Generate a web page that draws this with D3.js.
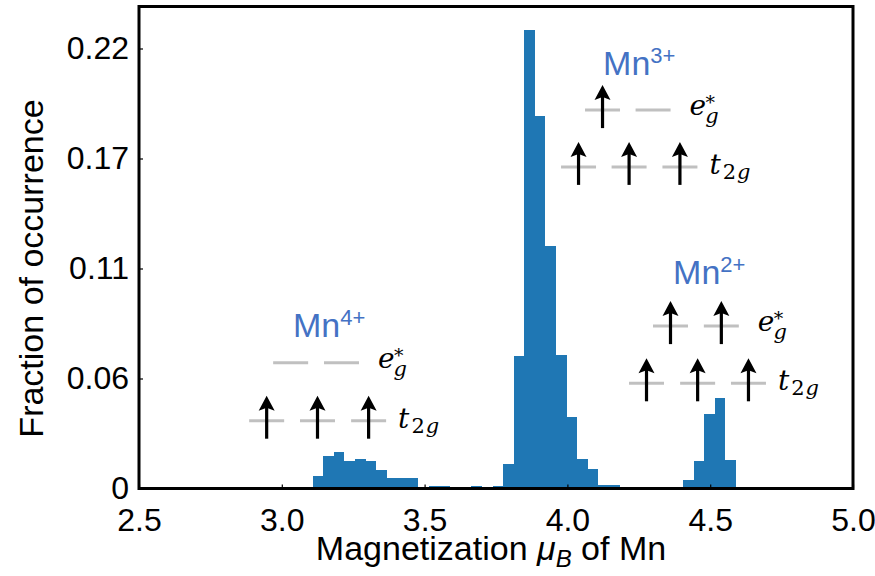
<!DOCTYPE html>
<html>
<head>
<meta charset="utf-8">
<script src="https://cdn.jsdelivr.net/npm/d3@7/dist/d3.min.js"></script>
<style>
  html, body { margin: 0; padding: 0; background: #fff; }
  svg { display: block; }
</style>
</head>
<body>
<svg id="chart" width="875" height="576"></svg>
<script>
// Histogram of Mn magnetic moments: 40 equal-width bins
const binStart = 3.108;
const binWidth = 0.03705;
const fractions = [
  0.0062, 0.0162, 0.0184, 0.0139, 0.0147, 0.0137, 0.0094, 0.0052, 0.0052, 0.0052,
  0.0008, 0.0012, 0.0012, 0.0000, 0.0000, 0.0012, 0.0000, 0.0012, 0.0122, 0.0662,
  0.2291, 0.1862, 0.1212, 0.0667, 0.0359, 0.0147, 0.0097, 0.0017, 0.0017, 0.0000,
  0.0000, 0.0000, 0.0008, 0.0000, 0.0000, 0.0042, 0.0137, 0.0372, 0.0452, 0.0142
];

const xTicks = [2.5, 3.0, 3.5, 4.0, 4.5, 5.0];
const xTickLabels = ["2.5", "3.0", "3.5", "4.0", "4.5", "5.0"];
const yTicks = [0, 0.055, 0.11, 0.165, 0.22];
const yTickLabels = ["0", "0.06", "0.11", "0.17", "0.22"];

// Crystal-field level diagrams for each oxidation state (data coordinates)
const ionNames = ["Mn", "Mn", "Mn"];
const ionCharges = ["4+", "3+", "2+"];
const ionLabelX = [3.039, 4.125, 4.370];
const ionLabelY = [0.0757, 0.2066, 0.1022];
const egLevelY = [0.0629, 0.1892, 0.0812];
const t2gLevelY = [0.0339, 0.1608, 0.0526];
const egSlotX = [[3.031, 3.209], [4.123, 4.300], [4.361, 4.539]];
const t2gSlotX = [[2.947, 3.125, 3.304], [4.039, 4.216, 4.394], [4.277, 4.456, 4.634]];
const egSpins = [[0, 0], [1, 0], [1, 1]];
const t2gSpins = [[1, 1, 1], [1, 1, 1], [1, 1, 1]];

const svg = d3.select("#chart");
const W = 875, H = 576;
const margin = { left: 139, right: W - 853, top: 6.5, bottom: H - 488.5 };

const x = d3.scaleLinear().domain([2.5, 5.0]).range([margin.left, W - margin.right]);
const y = d3.scaleLinear().domain([0, 0.241]).range([H - margin.bottom, margin.top]);

const barColor = "#1f77b4";
const sansFont = "'Liberation Sans', Arial, sans-serif";
const mathFont = "'DejaVu Serif', 'Liberation Serif', serif";

// Bars
const bins = fractions.map((v, i) => ({ x0: binStart + i * binWidth, x1: binStart + (i + 1) * binWidth, v }));
svg.append("g").selectAll("rect")
  .data(bins.filter(d => d.v > 0))
  .join("rect")
  .attr("x", d => x(d.x0))
  .attr("width", d => x(d.x1) - x(d.x0))
  .attr("y", d => y(d.v))
  .attr("height", d => y(0) - y(d.v))
  .attr("fill", barColor)
  .attr("shape-rendering", "crispEdges");

// Axes with inward ticks
const xAxis = d3.axisBottom(x).tickValues(xTicks)
  .tickFormat((d, i) => xTickLabels[i]).tickSizeInner(-4).tickSizeOuter(0).tickPadding(20);
const gx = svg.append("g").attr("transform", `translate(0,${y(0)})`).call(xAxis);
gx.select(".domain").remove();
gx.selectAll("text").attr("font-family", sansFont).attr("font-size", 32).attr("fill", "#000");
gx.selectAll("line").attr("stroke", "#000").attr("stroke-width", 1.2);

const yAxis = d3.axisLeft(y).tickValues(yTicks)
  .tickFormat((d, i) => yTickLabels[i]).tickSizeInner(-4).tickSizeOuter(0).tickPadding(10);
const gy = svg.append("g").attr("transform", `translate(${x(2.5)},0)`).call(yAxis);
gy.select(".domain").remove();
gy.selectAll("text").attr("font-family", sansFont).attr("font-size", 32).attr("fill", "#000");
gy.selectAll("line").attr("stroke", "#000").attr("stroke-width", 1.2);

// Frame
svg.append("rect")
  .attr("x", x(2.5)).attr("y", y(0.241))
  .attr("width", x(5.0) - x(2.5)).attr("height", y(0) - y(0.241))
  .attr("fill", "none").attr("stroke", "#000").attr("stroke-width", 3);

// Axis titles
const xTitle = svg.append("text")
  .attr("x", (x(2.5) + x(5.0)) / 2 - 5).attr("y", 560)
  .attr("text-anchor", "middle")
  .attr("font-family", sansFont).attr("font-size", 34).attr("fill", "#000");
xTitle.append("tspan").text("Magnetization ");
xTitle.append("tspan").attr("font-style", "italic").text("μ");
xTitle.append("tspan").attr("font-style", "italic").attr("font-size", 24).attr("dy", 7).text("B");
xTitle.append("tspan").attr("dy", -7).text(" of Mn");

svg.append("text")
  .attr("transform", `translate(43,${(y(0) + y(0.241)) / 2 + 21}) rotate(-90)`)
  .attr("text-anchor", "middle")
  .attr("font-family", sansFont).attr("font-size", 34).attr("fill", "#000")
  .text("Fraction of occurrence");

// Level diagrams
const dashLen = 35;
const levelColor = "#c0c0c0";
const ionColor = "#4472c4";

function drawArrow(g, cx, ly) {
  const top = ly - 25, bottom = ly + 18;
  g.append("line")
    .attr("x1", cx).attr("x2", cx).attr("y1", bottom).attr("y2", top + 10)
    .attr("stroke", "#000").attr("stroke-width", 3.2);
  g.append("path")
    .attr("d", `M${cx},${top} L${cx - 8},${top + 15} L${cx},${top + 12} L${cx + 8},${top + 15} Z`)
    .attr("fill", "#000");
}

ionNames.forEach((name, k) => {
  const g = svg.append("g");
  const egY = y(egLevelY[k]);
  const tY = y(t2gLevelY[k]);

  // Levels
  egSlotX[k].forEach(sx => {
    g.append("line").attr("x1", x(sx) - dashLen / 2).attr("x2", x(sx) + dashLen / 2)
      .attr("y1", egY).attr("y2", egY).attr("stroke", levelColor).attr("stroke-width", 3);
  });
  t2gSlotX[k].forEach(sx => {
    g.append("line").attr("x1", x(sx) - dashLen / 2).attr("x2", x(sx) + dashLen / 2)
      .attr("y1", tY).attr("y2", tY).attr("stroke", levelColor).attr("stroke-width", 3);
  });

  // Spins
  egSlotX[k].forEach((sx, j) => { if (egSpins[k][j]) drawArrow(g, x(sx), egY); });
  t2gSlotX[k].forEach((sx, j) => { if (t2gSpins[k][j]) drawArrow(g, x(sx), tY); });

  // Ion label
  const lab = g.append("text")
    .attr("x", x(ionLabelX[k])).attr("y", y(ionLabelY[k]))
    .attr("font-family", sansFont).attr("font-size", 34).attr("fill", ionColor);
  lab.append("tspan").text(name);
  lab.append("tspan").attr("font-size", 22).attr("dy", -12).text(ionCharges[k]);

  // e_g* label: subscript g with a star stacked above it
  const egEnd = x(egSlotX[k][egSlotX[k].length - 1]) + dashLen / 2;
  const ex = egEnd + 19;
  const el = g.append("text").attr("x", ex).attr("y", egY + 5)
    .attr("font-family", mathFont).attr("font-style", "italic").attr("font-size", 28);
  el.append("tspan").text("e");
  el.append("tspan").attr("font-size", 21).attr("dy", 8).attr("dx", -1).text("g");
  el.append("tspan").attr("font-style", "normal").attr("font-size", 19)
    .attr("dx", -13).attr("dy", -14).text("*");

  // t_2g label
  const tEnd = x(t2gSlotX[k][t2gSlotX[k].length - 1]) + dashLen / 2;
  const tx = tEnd + 12;
  const tl = g.append("text").attr("x", tx).attr("y", tY + 7)
    .attr("font-family", mathFont).attr("font-size", 28);
  tl.append("tspan").attr("font-style", "italic").text("t");
  tl.append("tspan").attr("font-size", 21).attr("dy", 5).attr("dx", 2).text("2");
  tl.append("tspan").attr("font-size", 21).attr("font-style", "italic").attr("dx", 1).text("g");
});
</script>
</body>
</html>
